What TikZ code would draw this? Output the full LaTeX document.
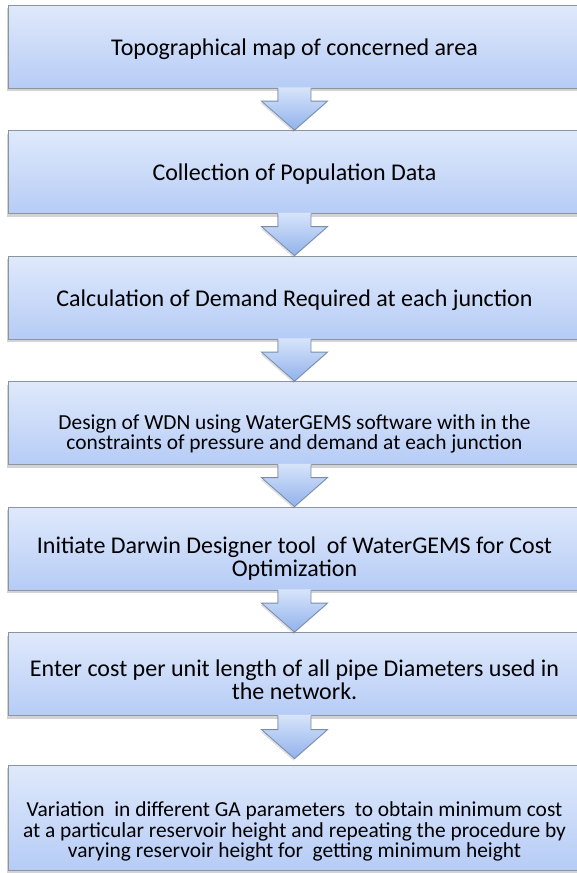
\documentclass[tikz,border=0pt]{standalone}
\usepackage{fontspec}
\setmainfont{Carlito}
\usetikzlibrary{calc,shadows}
\definecolor{boxtop}{RGB}{223,233,251}
\definecolor{boxbot}{RGB}{182,204,246}
\definecolor{boxline}{RGB}{140,148,160}
\definecolor{arrtop}{RGB}{215,228,250}
\definecolor{arrbot}{RGB}{145,178,236}
\definecolor{arrline}{RGB}{120,140,172}
% block arrow below a box; the boxes run past the right edge, so the arrow axis sits 14pt left of their centre
\newcommand{\flowarrow}[3][0]{%
  \shade[top color=arrtop,bottom color=arrbot,drop shadow={shadow xshift=-1pt,shadow yshift=-2pt,opacity=.25}]
    ($(#2.south)+(-30.5,-1)$) -- ($(#3.north)+(-30.5,-29-#1)$) -- ($(#3.north)+(-47,-29-#1)$)
    -- ($(#3.north)+(-14,-#1)$) -- ($(#3.north)+(19,-29-#1)$) -- ($(#3.north)+(2.5,-29-#1)$)
    -- ($(#2.south)+(2.5,-1)$) -- cycle;
  \draw[arrline,line width=.8pt]
    ($(#2.south)+(-30.5,0)$) -- ($(#3.north)+(-30.5,-29-#1)$) -- ($(#3.north)+(-47,-29-#1)$)
    -- ($(#3.north)+(-14,-#1)$) -- ($(#3.north)+(19,-29-#1)$) -- ($(#3.north)+(2.5,-29-#1)$)
    -- ($(#2.south)+(2.5,0)$);}

\begin{document}
\begin{tikzpicture}[x=1pt,y=-1pt,
  textdrop/.store in=\textdrop, textdrop=5pt,
  stepbox/.style={draw=boxline,line width=.8pt,top color=boxtop,bottom color=boxbot,
    minimum width=600pt,minimum height=83pt,inner sep=0pt,
    font=\fontsize{24}{23}\selectfont,
    execute at begin node={\hspace*{-28pt}\begin{minipage}{560pt}\centering\vspace*{\textdrop}},
    execute at end node={\end{minipage}},
    drop shadow={shadow xshift=-1.5pt,shadow yshift=-3pt,opacity=.35}},
  smalltext/.style={font=\fontsize{21.4}{20.5}\selectfont}]

\useasboundingbox (0,0) rectangle (577,873);

\node[stepbox] (s1) at (308.5,46.5) {Topographical map of concerned area};
\node[stepbox] (s2) at (308.5,172) {Collection of Population Data};
\node[stepbox] (s3) at (308.5,297.5) {Calculation of Demand Required at each junction};
\node[stepbox,smalltext,textdrop=22pt] (s4) at (308.5,423) {Design of WDN using WaterGEMS software with in the\\ constraints of pressure and demand at each junction};
\node[stepbox,textdrop=20pt] (s5) at (308.5,548.5) {Initiate Darwin Designer tool~ of WaterGEMS for Cost\\ Optimization};
\node[stepbox,textdrop=12pt] (s6) at (308.5,674) {Enter cost per unit length of all pipe Diameters used in\\ the network.};
\node[stepbox,smalltext,textdrop=28pt,minimum height=105pt] (s7) at (308.5,817.5) {Variation~ in different GA parameters~ to obtain minimum cost\\ at a particular reservoir height and repeating the procedure by\\ varying reservoir height for~ getting minimum height};

\flowarrow{s1}{s2}
\flowarrow{s2}{s3}
\flowarrow{s3}{s4}
\flowarrow{s4}{s5}
\flowarrow{s5}{s6}
\flowarrow[6]{s6}{s7}

\end{tikzpicture}
\end{document}
